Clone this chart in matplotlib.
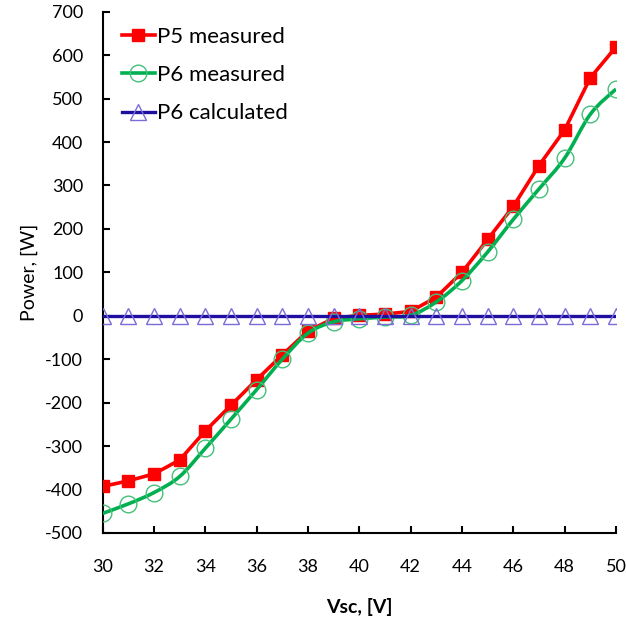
import numpy as np
import matplotlib
matplotlib.use("Agg")
import matplotlib.pyplot as plt
from matplotlib.path import Path
from matplotlib.patches import PathPatch
from matplotlib.lines import Line2D

plt.rcParams['font.family'] = ['Lato', 'DejaVu Sans']
plt.rcParams['axes.unicode_minus'] = False

vsc = [30, 31, 32, 33, 34, 35, 36, 37, 38, 39, 40, 41, 42, 43, 44, 45, 46, 47, 48, 49, 50]
p5_measured = [-393, -380, -364, -332, -265, -206, -147, -90, -35, -6, 1, 4, 10, 43, 100, 176, 252, 346, 428, 548, 619]
p6_measured = [-455, -433, -407, -370, -305, -238, -170, -100, -40, -14, -7, -3, 1, 32, 81, 147, 222, 292, 363, 464, 522]
p6_calculated = [0] * 21

RED = '#FF0000'
GREEN = '#00B050'
GREEN_M = '#45C07A'
BLUE = '#1E0FA0'
BLUE_M = '#7A6CD6'

fig = plt.figure(figsize=(6.26, 6.19), dpi=100)
ax = fig.add_axes([0.164, 0.139, 0.82, 0.842])

# P5 measured
ax.plot(vsc, p5_measured, color=RED, lw=2.6, marker='s', ms=9,
        mfc=RED, mec=RED, zorder=3)

# P6 measured: smoothed line (Excel-style Bezier) + hollow circles
x = np.array(vsc, float); y = np.array(p6_measured, float)
verts = [(x[0], y[0])]; codes = [Path.MOVETO]
n = len(x)
for i in range(n - 1):
    xm1, ym1 = (x[i - 1], y[i - 1]) if i > 0 else (x[i], y[i])
    xp2, yp2 = (x[i + 2], y[i + 2]) if i + 2 < n else (x[i + 1], y[i + 1])
    c1 = (x[i] + (x[i + 1] - xm1) / 6, y[i] + (y[i + 1] - ym1) / 6)
    c2 = (x[i + 1] - (xp2 - x[i]) / 6, y[i + 1] - (yp2 - y[i]) / 6)
    verts += [c1, c2, (x[i + 1], y[i + 1])]
    codes += [Path.CURVE4] * 3
ax.add_patch(PathPatch(Path(verts, codes), fc='none', ec=GREEN, lw=2.6,
                       transform=ax.transData, zorder=4))
ax.plot(vsc, p6_measured, ls='none', marker='o', ms=12, mfc='none',
        mec=GREEN_M, mew=1.0, zorder=4)

# P6 calculated
ax.plot(vsc, p6_calculated, color=BLUE, lw=2.4, zorder=5)
ax.plot(vsc, p6_calculated, ls='none', marker='^', ms=11, mfc='none',
        mec=BLUE_M, mew=1.0, zorder=5)

ax.set_xlim(30, 50)
ax.set_ylim(-500, 700)
ax.set_xticks(range(30, 51, 2))
ax.set_yticks(range(-500, 701, 100))
ax.spines['top'].set_visible(False)
ax.spines['right'].set_visible(False)
for s in ['left', 'bottom']:
    ax.spines[s].set_linewidth(1.5)
ax.tick_params(axis='both', direction='in', length=5, width=1.5, labelsize=13)
ax.tick_params(axis='y', pad=14)
ax.tick_params(axis='x', pad=19)

ax.set_xlabel('Vsc, [V]', fontsize=14, fontweight='bold', labelpad=16)
ax.set_ylabel('Power, [W]', fontsize=14, labelpad=5)

handles = [
    Line2D([], [], color=RED, lw=2.6, marker='s', ms=9, mfc=RED, mec=RED),
    Line2D([], [], color=GREEN, lw=2.6, marker='o', ms=12, mfc='none', mec=GREEN_M),
    Line2D([], [], color=BLUE, lw=2.4, marker='^', ms=11, mfc='none', mec=BLUE_M),
]
ax.legend(handles, ['P5 measured', 'P6 measured', 'P6 calculated'],
          loc='upper left', bbox_to_anchor=(0.02, 0.988), frameon=False,
          fontsize=16, handlelength=1.5, handletextpad=0.1, labelspacing=0.82,
          borderaxespad=0.0)

fig.savefig('out.png', dpi=100)
